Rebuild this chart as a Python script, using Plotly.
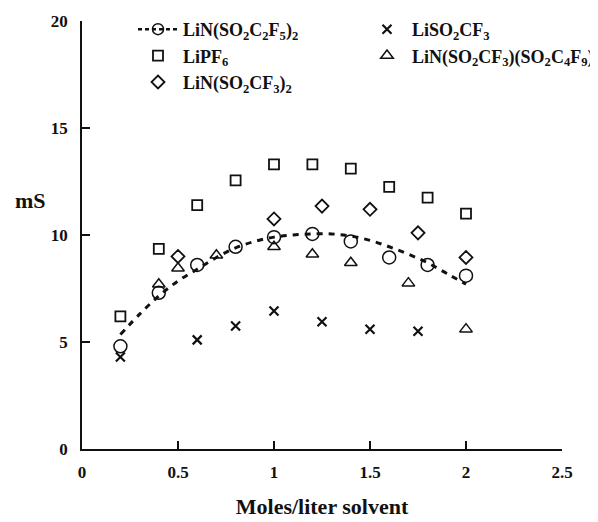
import plotly.graph_objects as go

# Data
conc_main = [0.2, 0.4, 0.6, 0.8, 1.0, 1.2, 1.4, 1.6, 1.8, 2.0]
c2f5_vals = [4.8, 7.3, 8.6, 9.45, 9.9, 10.05, 9.7, 8.95, 8.6, 8.1]
pf6_vals = [6.2, 9.35, 11.4, 12.55, 13.3, 13.3, 13.1, 12.25, 11.75, 11.0]

fit_x = [0.2, 0.3, 0.4, 0.5, 0.6, 0.7, 0.8, 0.9, 1.0, 1.1, 1.2, 1.3, 1.4, 1.5, 1.6, 1.7, 1.8, 1.9, 2.0]
fit_y = [5.35, 6.3, 7.15, 7.85, 8.4, 8.95, 9.4, 9.7, 9.9, 10.0, 10.05, 10.05, 9.95, 9.75, 9.45, 9.1, 8.7, 8.2, 7.7]

cf3_x = [0.5, 1.0, 1.25, 1.5, 1.75, 2.0]
cf3_y = [9.0, 10.75, 11.35, 11.2, 10.1, 8.95]

triflate_x = [0.2, 0.6, 0.8, 1.0, 1.25, 1.5, 1.75]
triflate_y = [4.3, 5.1, 5.75, 6.45, 5.95, 5.6, 5.5]

mixed_x = [0.4, 0.5, 0.7, 1.0, 1.2, 1.4, 1.7, 2.0]
mixed_y = [7.7, 8.45, 9.05, 9.45, 9.1, 8.7, 7.75, 5.6]

names = [
    "LiN(SO<sub>2</sub>C<sub>2</sub>F<sub>5</sub>)<sub>2</sub>",
    "LiSO<sub>2</sub>CF<sub>3</sub>",
    "LiPF<sub>6</sub>",
    "LiN(SO<sub>2</sub>CF<sub>3</sub>)(SO<sub>2</sub>C<sub>4</sub>F<sub>9</sub>)",
    "LiN(SO<sub>2</sub>CF<sub>3</sub>)<sub>2</sub>",
]
x_ticks = [0, 0.5, 1, 1.5, 2, 2.5]
y_ticks = [0, 5, 10, 15, 20]

FONT = "Liberation Serif"
BLACK = "#111"

fig = go.Figure()

fig.add_trace(go.Scatter(x=fit_x, y=fit_y, mode="lines", line=dict(color=BLACK, width=3, dash="6px,6px", shape="spline"),
                         showlegend=False))
fig.add_trace(go.Scatter(x=conc_main, y=c2f5_vals, mode="markers",
                         marker=dict(symbol="circle-open", size=13, color=BLACK, line=dict(width=1.5)),
                         showlegend=False))
fig.add_trace(go.Scatter(x=[None], y=[None], mode="lines+markers", name="<b>" + names[0] + "</b>",
                         line=dict(color=BLACK, width=2.5, dash="4px,3px"),
                         marker=dict(symbol="circle-open", size=11, color=BLACK, line=dict(width=1.5))))
fig.add_trace(go.Scatter(x=triflate_x, y=triflate_y, mode="markers", name="<b>" + names[1] + "</b>",
                         marker=dict(symbol="x-thin", size=9, color=BLACK, line=dict(width=2.2, color=BLACK))))
fig.add_trace(go.Scatter(x=conc_main, y=pf6_vals, mode="markers", name="<b>" + names[2] + "</b>",
                         marker=dict(symbol="square-open", size=10, color=BLACK, line=dict(width=1.8))))
fig.add_trace(go.Scatter(x=mixed_x, y=mixed_y, mode="markers", name="<b>" + names[3] + "</b>",
                         marker=dict(symbol="triangle-up-open", size=11, color=BLACK, line=dict(width=1.5))))
fig.add_trace(go.Scatter(x=cf3_x, y=cf3_y, mode="markers", name="<b>" + names[4] + "</b>",
                         marker=dict(symbol="diamond-open", size=10, color=BLACK, line=dict(width=1.8))))

fig.update_layout(
    width=590, height=514,
    margin=dict(l=74, r=36, t=13, b=73, autoexpand=False),
    paper_bgcolor="white", plot_bgcolor="white",
    font=dict(family=FONT, size=17, color=BLACK),
    showlegend=True,
    legend=dict(orientation="h", xref="container", yref="container", x=125 / 590, y=1 - 3 / 514,
                xanchor="left", yanchor="top",
                entrywidth=174, entrywidthmode="pixels", itemwidth=40,
                font=dict(family=FONT, size=18, color=BLACK),
                bgcolor="rgba(0,0,0,0)", tracegroupgap=0),
    xaxis=dict(range=[0, 2.5], tickvals=x_ticks, ticktext=[f"<b>{v:g}</b>" for v in x_ticks],
               showgrid=False, zeroline=False, showline=True, linecolor=BLACK, linewidth=1.5,
               ticks="inside", ticklen=8, tickcolor=BLACK, tickwidth=1.5, automargin=False,
               tickfont=dict(family=FONT, size=17, color=BLACK), ticklabelstandoff=7,
               title=dict(text="<b>Moles/liter solvent</b>", font=dict(family=FONT, size=22, color=BLACK), standoff=17)),
    yaxis=dict(range=[0, 20], tickvals=y_ticks, ticktext=[f"<b>{v}</b>" for v in y_ticks],
               showgrid=False, zeroline=False, showline=True, linecolor=BLACK, linewidth=1.5,
               ticks="inside", ticklen=8, tickcolor=BLACK, tickwidth=1.5, automargin=False,
               tickfont=dict(family=FONT, size=17, color=BLACK), ticklabelstandoff=9),
    annotations=[dict(text="<b>mS</b>", x=-52 / 480, y=11.6, xref="paper", yref="y", showarrow=False,
                      xanchor="center", font=dict(family=FONT, size=22, color=BLACK))],
)

fig.write_html("out.html")
